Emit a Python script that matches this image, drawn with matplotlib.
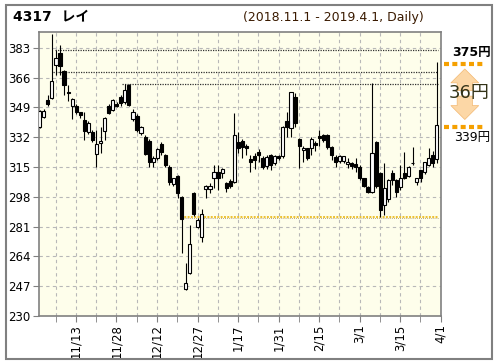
import matplotlib
matplotlib.use('Agg')
import matplotlib.pyplot as plt
import matplotlib.patches as mpatches
import numpy as np

plt.rcParams['font.family'] = ['DejaVu Sans', 'Noto Sans CJK JP']

# daily candles 2018.11.1 - 2019.4.1 (trading days)
opens = [338, 343.5, 353.3, 354.2, 373, 380.3, 370, 357.8, 350, 350,
         346.1, 342, 335.2, 335, 322.5, 328.6, 335.6, 350, 347.6, 351,
         355.2, 352.3, 361.5, 342.3, 344.2, 334.3, 332.3, 330, 317.7, 320.3,
         328.2, 322, 315.2, 305.2, 310, 298, 245.2, 254.4, 300.4, 280.6,
         275.3, 302.3, 302.5, 308.6, 312.4, 311.4, 305.7, 307.2, 306.7, 329.5,
         330, 327, 319.6, 321.3, 323.8, 320, 315.6, 322, 317.2, 321.3,
         321.3, 341.3, 337.1, 355.2, 330.8, 324.8, 325.7, 325.7, 328.6, 332.5,
         333.3, 333.3, 326.3, 320.6, 318.3, 318.5, 316.8, 317.2, 316.5, 315.2,
         308.6, 303.3, 300.6, 329.5, 311.4, 293.4, 296.6, 311.4, 307.3, 303.5,
         311.8, 310, 317.5, 306.3, 313.3, 312.4, 316.2, 321.9, 319.4]
closes = [347, 347, 351, 364, 377, 372.7, 361.5, 357.4, 354, 346.1,
          344.6, 335.6, 340, 330.5, 328, 330, 342.8, 345.7, 353, 350,
          351.4, 359, 350.4, 346.1, 336.2, 337.7, 322.5, 317.7, 320.3, 325.3,
          323.4, 316.4, 306.3, 308.6, 300, 285.2, 248.7, 271, 288.2, 284.8,
          288, 303.9, 304.2, 312.4, 308.6, 313.7, 302.9, 304.2, 333.3, 325.7,
          326.6, 325.7, 318, 319, 322, 315.2, 320.9, 316.2, 321.3, 320,
          338, 338, 357.5, 340, 326.7, 325.7, 320.3, 330.8, 327.6, 331.3,
          330.5, 326.3, 321.9, 318.1, 321.3, 321, 318.1, 315.6, 315.2, 308.6,
          304.2, 300.6, 322.9, 304.2, 290.5, 303, 307.3, 307.3, 301, 309,
          308.6, 314.9, 317, 308.6, 308.6, 317.6, 320, 317.2, 339]
highs = [347.5, 348, 356, 391, 382, 384.7, 370.5, 362, 354.5, 351,
         346.5, 346.6, 341, 336, 336.2, 338, 343.5, 351, 354, 352,
         356, 362.5, 362.5, 348, 345, 338.5, 333, 331, 321, 326,
         329, 322.5, 316, 309, 310.5, 298.5, 260.4, 282, 300.8, 286,
         291, 305, 306, 316, 316, 314.5, 306.5, 308, 345.7, 335,
         331, 328, 322, 323, 325, 321, 322, 322.5, 322, 322,
         338.5, 346.6, 358, 357, 331.4, 327, 326, 332, 330, 336,
         334, 334, 327, 322, 322, 321.5, 320, 318, 320, 316,
         309, 304, 362.8, 330, 312, 317.2, 308, 313, 308, 316,
         323.8, 315.5, 326.6, 309, 313.5, 318, 325.7, 324, 375]
lows = [337.5, 343, 350, 354, 367.6, 367.6, 356, 352.7, 342.4, 345,
        342.8, 330.5, 334, 329, 315.2, 323, 330.5, 345, 347, 349,
        350, 351, 350, 341, 335, 333, 322, 315.2, 315, 319,
        322, 315, 305, 304, 297.2, 266, 245, 254, 287, 280,
        272.4, 297.4, 300, 303, 302, 309, 301, 303, 306, 323,
        320, 322, 312, 314, 318, 314, 314, 313, 316, 319,
        320, 332, 332.3, 338, 314.3, 318, 319, 322, 324, 327,
        329, 325, 319, 315, 317, 317.5, 314.5, 314, 312, 307.5,
        303.5, 300, 300, 303, 286.7, 287.6, 295, 305, 298, 302,
        308, 309.5, 316.2, 305, 306.5, 311, 315.5, 315, 317]

tick_labels = ['11/13', '11/28', '12/12', '12/27', '1/17', '1/31', '2/15', '3/1', '3/15', '4/1']
tick_days = [8, 18, 28, 38, 48, 58, 68, 78, 88, 98]
y_ticks = [230, 247, 264, 281, 298, 315, 332, 349, 366, 383]

# resistance / support lines: (price, start day)
black_lines = [(382, 3.8), (369.4, 3.3), (362.6, 20.3)]
support = (286.7, 34.8)
high_last, close_last = 375, 339

o = np.array(opens)
c = np.array(closes)
h = np.array(highs)
l = np.array(lows)
x = np.arange(len(o))

fig = plt.figure(figsize=(4.96, 3.64), dpi=100)
ax = fig.add_axes([38.7 / 496, 48 / 364, 402 / 496, 284 / 364])
ax.set_facecolor('#fefeeb')

ax.vlines(x, l, h, color='black', lw=0.8, zorder=3)
up = c >= o
bottom = np.minimum(o, c)
height = np.maximum(np.abs(c - o), 0.4)
ax.bar(x[up], height[up], bottom=bottom[up], width=0.78, color='white',
       edgecolor='black', lw=0.8, zorder=4)
ax.bar(x[~up], height[~up], bottom=bottom[~up], width=0.78, color='black',
       edgecolor='black', lw=0.8, zorder=4)

for price, start in black_lines:
    ax.plot([start, 98.3], [price, price], color='#303030', lw=0.9,
            linestyle=(0, (1, 1)), zorder=2)
ax.plot([support[1], 98.3], [support[0], support[0]], color='#ecc030', lw=1.4,
        linestyle=(0, (1, 0.7)), zorder=2)
ax.plot([support[1], 98.3], [support[0] - 0.6, support[0] - 0.6], color='#806020',
        lw=0.5, linestyle=(0, (1, 2)), zorder=2)

ax.set_xlim(-0.25, 98.76)
ax.set_ylim(230, 392)
ax.set_yticks(y_ticks)
ax.set_yticklabels([str(v) for v in y_ticks])
grid_x = np.arange(3.94, 99, 5)
ax.set_xticks(grid_x, minor=True)
ax.set_xticks(np.array(tick_days) + 0.94)
ax.set_xticklabels(tick_labels, rotation=90)
ax.tick_params(axis='x', which='both', length=4, color='#808080', labelsize=8.5, pad=2)
ax.tick_params(axis='y', length=4, color='#808080', labelsize=8.5, pad=2)
for xv in grid_x:
    ax.axvline(xv, color='#b8b8b8', lw=0.8, linestyle=(0, (3, 3)), zorder=1)
for yv in y_ticks[1:]:
    ax.axhline(yv, color='#b8b8b8', lw=0.8, linestyle=(0, (3, 3)), zorder=1)
for s in ax.spines.values():
    s.set_color('#808080')
    s.set_linewidth(1.2)

# right side: high / close range
tr = ax.get_yaxis_transform()
for p in (high_last, close_last):
    ax.plot([1.007, 1.11], [p - 1, p - 1], transform=tr, clip_on=False,
            color='#f5a000', lw=3, linestyle=(0, (1.2, 0.8)))
ax.text(1.077, high_last + 5.5, f'{high_last}円', transform=tr, ha='center',
        va='center', fontsize=9, fontweight='bold')
ax.text(1.077, close_last - 7, f'{close_last}円', transform=tr, ha='center',
        va='center', fontsize=9)
mid = (high_last + close_last) / 2
for end in (high_last - 2.5, close_last + 1.5):
    ax.annotate('', xy=(1.06, end), xytext=(1.06, mid), xycoords=tr,
                textcoords=tr,
                arrowprops=dict(arrowstyle='simple,head_width=2.0,head_length=1.0,tail_width=1.1',
                                fc='#fcd7a6', ec='#f3b870', lw=0.5))
ax.text(1.07, mid, f'{high_last - close_last}円', transform=tr, ha='center',
        va='center', fontsize=13, color='#333318')

fig.text(13 / 496, 1 - 16 / 364, '4317  レイ', fontsize=10, fontweight='bold',
         va='center', ha='left')
fig.text(243 / 496, 1 - 17 / 364, '(2018.11.1 - 2019.4.1, Daily)', fontsize=9,
         va='center', ha='left', color='#3a1a00')
fig.patches.append(mpatches.Rectangle((6 / 496, 5 / 364), 486 / 496, 354 / 364,
                                      transform=fig.transFigure, fill=False,
                                      edgecolor='#808080', lw=1.5))

fig.savefig('out.png', dpi=100)
